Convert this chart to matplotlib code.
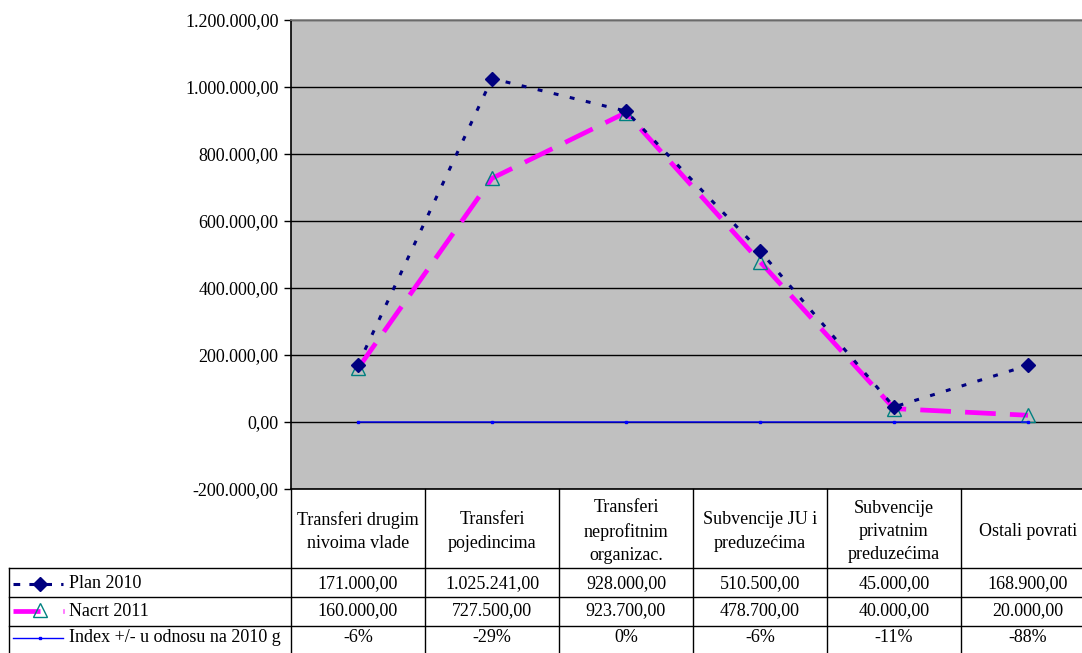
import matplotlib
matplotlib.use("Agg")
import matplotlib.pyplot as plt
from matplotlib.ticker import FuncFormatter, MultipleLocator

categories = ["Transferi drugim\nnivoima vlade", "Transferi\npojedincima",
              "Transferi\nneprofitnim\norganizac.", "Subvencije JU i\npreduzećima",
              "Subvencije\nprivatnim\npreduzećima", "Ostali povrati"]
plan_2010 = [171000.00, 1025241.00, 928000.00, 510500.00, 45000.00, 168900.00]
nacrt_2011 = [160000.00, 727500.00, 923700.00, 478700.00, 40000.00, 20000.00]
index_pct = [-0.06, -0.29, 0.00, -0.06, -0.11, -0.88]
series_names = ["Plan 2010", "Nacrt 2011", "Index +/- u odnosu na 2010 g"]

W, H = 1082, 653
FONT = "Liberation Serif"
FS = 13
plt.rcParams['font.family'] = [FONT, 'DejaVu Serif']

def eu(v):
    s = f"{v:,.2f}"
    return s.replace(",", "X").replace(".", ",").replace("X", ".")

fig = plt.figure(figsize=(W / 100, H / 100), dpi=100)
fig.patch.set_facecolor("white")

# plot area in pixel geometry
L, R, T, B = 291, 1095, 20, 489
ax = fig.add_axes([L / W, 1 - B / H, (R - L) / W, (B - T) / H])
ax.set_facecolor("#C0C0C0")
x = list(range(len(categories)))
ax.set_xlim(-0.5, len(categories) - 0.5)
ax.set_ylim(-200000, 1200000)
ax.yaxis.set_major_locator(MultipleLocator(200000))
ax.yaxis.set_major_formatter(FuncFormatter(lambda v, p: eu(v)))
ax.grid(axis="y", color="black", linewidth=1.0)
ax.set_axisbelow(True)
ax.set_xticks([])
ax.tick_params(axis="y", labelsize=FS, length=5, width=1, color="black", pad=4)
ax.spines["left"].set_color("black")
ax.spines["bottom"].set_color("black")
ax.spines["top"].set_color("#808080")
ax.spines["right"].set_color("#808080")
for s in ax.spines.values():
    s.set_linewidth(1.2)

plan_kw = dict(color="#000080", linewidth=2.2, linestyle=(0, (1.6, 3.8)),
               marker="D", markersize=7, markerfacecolor="#000080",
               markeredgecolor="#000080")
nacrt_kw = dict(color="#FF00FF", linewidth=3.4, linestyle=(0, (6.5, 3.0)),
                marker="^", markersize=10, markerfacecolor="none",
                markeredgecolor="#008080", markeredgewidth=1.0)
index_kw = dict(color="#0000FF", linewidth=1.0, linestyle="-",
                marker="s", markersize=2.0, markerfacecolor="#0000FF",
                markeredgecolor="#0000FF")

ax.plot(x, plan_2010, zorder=4, clip_on=False, **plan_kw)
ax.plot(x, nacrt_2011, zorder=3, clip_on=False, **nacrt_kw)
ax.plot(x, index_pct, zorder=5, clip_on=False, **index_kw)

# overlay in pixel coordinates for the data table
ov = fig.add_axes([0, 0, 1, 1])
ov.set_xlim(0, W)
ov.set_ylim(H, 0)
ov.axis("off")
ov.patch.set_visible(False)

col_w = (R - L) / len(categories)
col_edges = [L + i * col_w for i in range(len(categories) + 1)]
row_y = [489, 568, 597, 626, 656]
lw = 1.0
for xe in col_edges:
    ov.plot([xe, xe], [row_y[0], row_y[-1]], color="black", lw=lw, clip_on=False)
ov.plot([9, 9], [row_y[1], row_y[-1]], color="black", lw=lw)
for yy in row_y[1:4]:
    ov.plot([9, R], [yy, yy], color="black", lw=lw, clip_on=False)

for i, c in enumerate(categories):
    cx = L + (i + 0.5) * col_w
    ov.text(cx, (row_y[0] + row_y[1]) / 2 + 3, c, ha="center", va="center",
            fontsize=FS, linespacing=1.48, clip_on=False)

rows = [[eu(v) for v in plan_2010], [eu(v) for v in nacrt_2011],
        [f"{round(v * 100):d}%" for v in index_pct]]
row_cy = [584, 611, 638]
for r, vals in enumerate(rows):
    cy = row_cy[r]
    for i, v in enumerate(vals):
        cx = L + (i + 0.5) * col_w
        ov.text(cx, cy, v.replace("-0%", "0%"), ha="center", va="center",
                fontsize=FS, clip_on=False)
    ov.text(69, cy, series_names[r], ha="left", va="center", fontsize=FS)

# legend keys
y1 = 584
ov.plot([13, 63], [y1, y1], color="#000080", lw=2.2, linestyle=(0, (2.2, 3.0)))
ov.plot([40], [y1], marker="D", markersize=7, color="#000080")
y2 = 611
ov.plot([13, 40], [y2, y2], color="#FF00FF", lw=3.4, solid_capstyle="butt")
ov.plot([63, 63.8], [y2, y2], color="#FF00FF", lw=3.4, solid_capstyle="butt")
ov.plot([40], [y2 - 1], marker="^", markersize=10, markerfacecolor="none",
        markeredgecolor="#008080", markeredgewidth=1.0)
y3 = 638
ov.plot([13, 63], [y3, y3], color="#0000FF", lw=1.0)
ov.plot([40], [y3], marker="s", markersize=2.0, color="#0000FF")

fig.savefig("out.png", dpi=100, facecolor="white")
